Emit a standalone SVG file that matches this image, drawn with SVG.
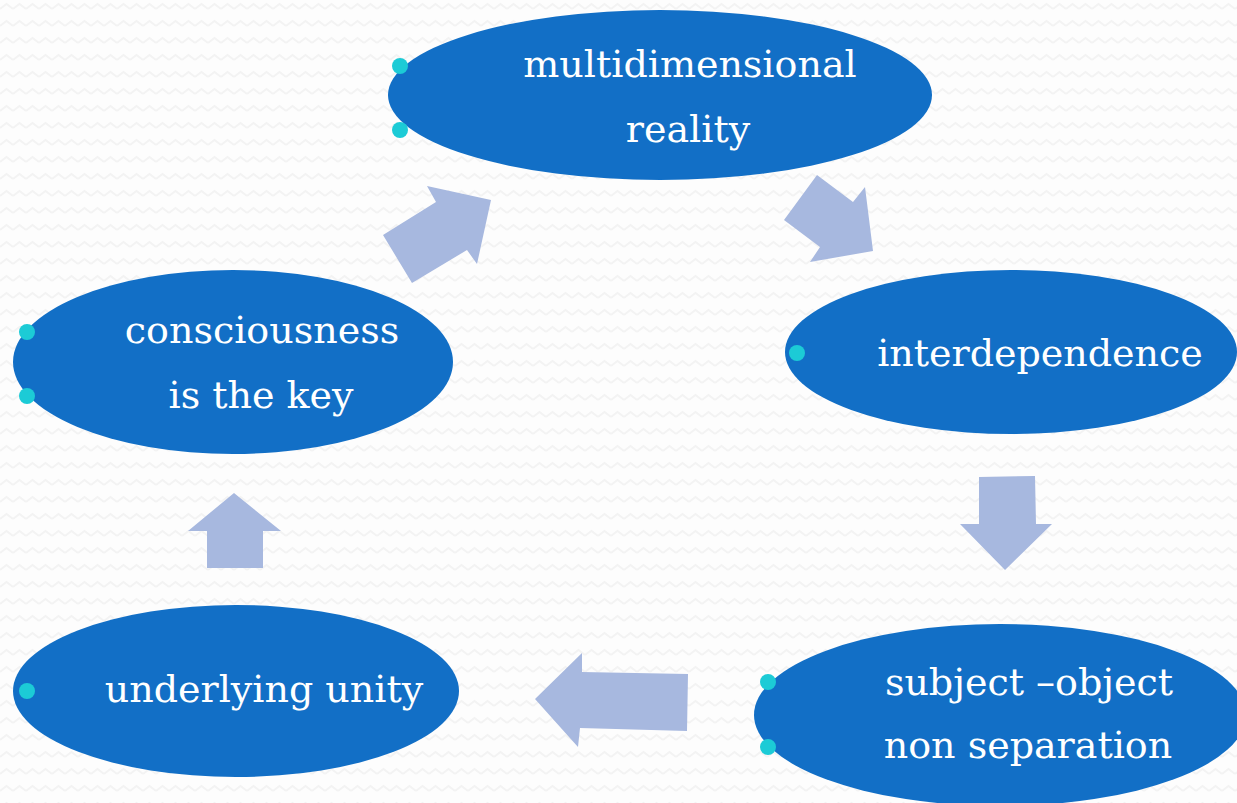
<svg xmlns="http://www.w3.org/2000/svg" width="1237" height="803" viewBox="0 0 1237 803">
<defs>
<pattern id="zz" width="13" height="17" patternUnits="userSpaceOnUse">
<polyline points="0,9 6.5,4 13,9" fill="none" stroke="#f3f3f3" stroke-width="2"/>
</pattern>
<style>
.node{fill:#126fc6}
.dot{fill:#1ccbd6}
.lbl{fill:#ffffff;font-family:"DejaVu Serif","Liberation Serif",serif;font-size:38px;text-anchor:middle}
.arr{fill:#a7b8df}
</style>
</defs>
<rect width="1237" height="803" fill="#fdfdfd"/>
<rect width="1237" height="803" fill="url(#zz)"/>
<g id="connectors">
<polygon class="arr" points="383,235 436,202 427,186 491,200 477,264 467,250 412,283"/>
<polygon class="arr" points="784,220 817,175 853,202 865,187 873,251 810,262 820,247"/>
<polygon class="arr" points="979,477 1035,476 1036,524 1052,524 1005,570 960,524 979,524"/>
<polygon class="arr" points="688,674 687,731 580,728 578,747 535,699 582,653 582,672"/>
<polygon class="arr" points="234,493 281,531 263,531 263,568 207,568 207,531 188,531"/>
</g>
<g id="n1">
<ellipse class="node" cx="660" cy="95" rx="272" ry="85"/>
<circle class="dot" cx="400" cy="66" r="8"/>
<circle class="dot" cx="400" cy="130" r="8"/>
<text class="lbl" x="690" y="77">multidimensional</text>
<text class="lbl" x="688" y="142">reality</text>
</g>
<g id="n2">
<ellipse class="node" cx="1011" cy="352" rx="226" ry="82"/>
<circle class="dot" cx="797" cy="353" r="8"/>
<text class="lbl" x="1040" y="366">interdependence</text>
</g>
<g id="n3">
<ellipse class="node" cx="1000" cy="715" rx="246" ry="91"/>
<circle class="dot" cx="768" cy="682" r="8"/>
<circle class="dot" cx="768" cy="747" r="8"/>
<text class="lbl" x="1029" y="695">subject –object</text>
<text class="lbl" x="1028" y="758">non separation</text>
</g>
<g id="n4">
<ellipse class="node" cx="236" cy="691" rx="223" ry="86"/>
<circle class="dot" cx="27" cy="691" r="8"/>
<text class="lbl" x="264" y="702">underlying unity</text>
</g>
<g id="n5">
<ellipse class="node" cx="233" cy="362" rx="220" ry="92"/>
<circle class="dot" cx="27" cy="332" r="8"/>
<circle class="dot" cx="27" cy="396" r="8"/>
<text class="lbl" x="262" y="343">consciousness</text>
<text class="lbl" x="261" y="408">is the key</text>
</g>
</svg>
